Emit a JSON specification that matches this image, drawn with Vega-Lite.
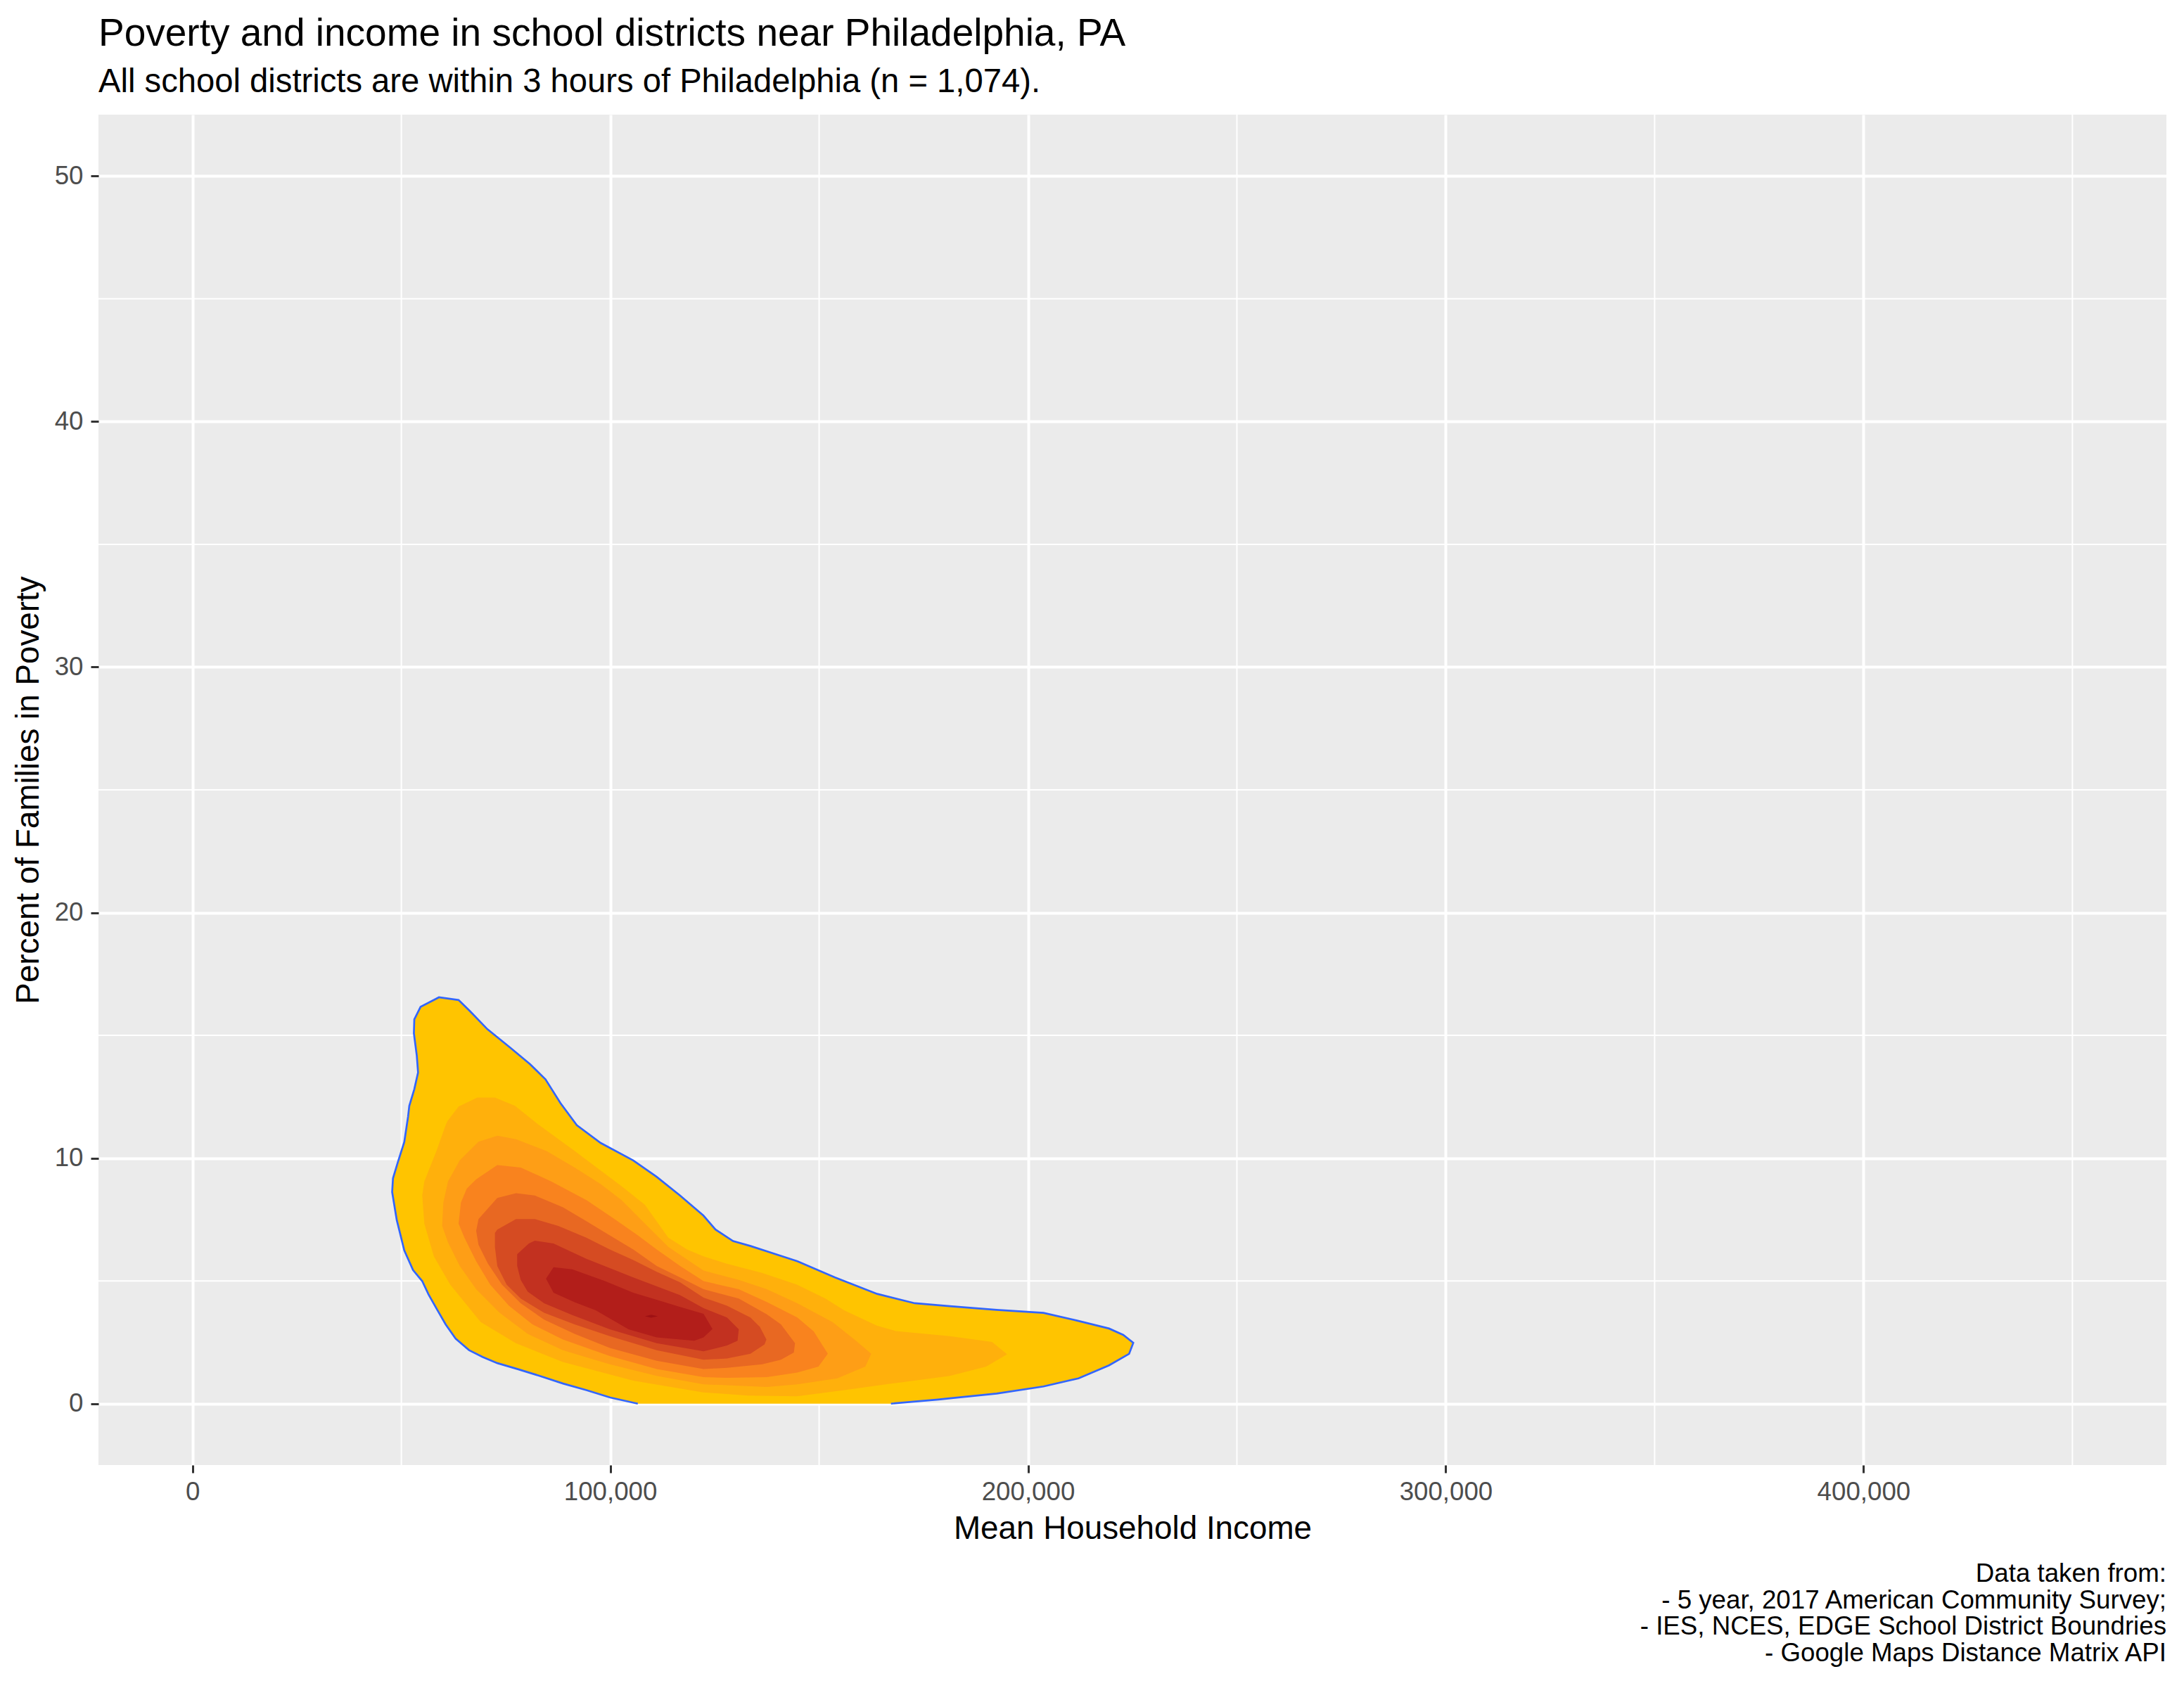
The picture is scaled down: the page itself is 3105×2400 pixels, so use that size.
{
  "$schema": "https://vega.github.io/schema/vega-lite/v6.json",
  "width": 2940,
  "height": 1920,
  "autosize": {"type": "none"},
  "padding": {"left": 140, "top": 163, "right": 25, "bottom": 317},
  "background": "#FFFFFF",
  "config": {
    "view": {"fill": "#EBEBEB", "stroke": null},
    "font": "Liberation Sans",
    "axis": {
      "domain": false, "grid": true, "gridColor": "#FFFFFF", "gridWidth": 4,
      "tickColor": "#333333", "tickWidth": 3, "tickSize": 11,
      "labelFont": "Liberation Sans", "labelFontSize": 36.7, "labelColor": "#4D4D4D",
      "labelFlush": false, "labelOverlap": false,
      "titleFont": "Liberation Sans", "titleFontSize": 45.8, "titleFontWeight": "normal", "titleColor": "#000000"
    },
    "axisX": {"labelPadding": 9, "titlePadding": 12},
    "axisY": {"labelPadding": 11, "titlePadding": 13}
  },
  "title": {
    "text": "Poverty and income in school districts near Philadelphia, PA",
    "subtitle": "All school districts are within 3 hours of Philadelphia (n = 1,074).",
    "anchor": "start",
    "frame": "group",
    "font": "Liberation Sans",
    "fontSize": 55,
    "fontWeight": "normal",
    "color": "#000000",
    "subtitleFont": "Liberation Sans",
    "subtitleFontSize": 47.2,
    "subtitleColor": "#000000",
    "offset": 21,
    "subtitlePadding": 17
  },
  "datasets": {
    "poly": [
      {"lv":1,"i":1,"x":106600,"y":0},{"lv":1,"i":2,"x":100000,"y":0.25},{"lv":1,"i":3,"x":94300,"y":0.55},{"lv":1,"i":4,"x":88700,"y":0.82},{"lv":1,"i":5,"x":83100,"y":1.13},{"lv":1,"i":6,"x":78000,"y":1.40},{"lv":1,"i":7,"x":73000,"y":1.65},{"lv":1,"i":8,"x":69500,"y":1.90},{"lv":1,"i":9,"x":66200,"y":2.18},{"lv":1,"i":10,"x":63000,"y":2.65},{"lv":1,"i":11,"x":60600,"y":3.23},{"lv":1,"i":12,"x":58500,"y":3.85},{"lv":1,"i":13,"x":56500,"y":4.45},{"lv":1,"i":14,"x":55000,"y":4.99},{"lv":1,"i":15,"x":52800,"y":5.44},{"lv":1,"i":16,"x":50700,"y":6.24},{"lv":1,"i":17,"x":48900,"y":7.48},{"lv":1,"i":18,"x":47800,"y":8.62},{"lv":1,"i":19,"x":48000,"y":9.18},{"lv":1,"i":20,"x":49200,"y":9.86},{"lv":1,"i":21,"x":50700,"y":10.66},{"lv":1,"i":22,"x":51600,"y":11.68},{"lv":1,"i":23,"x":51900,"y":12.13},{"lv":1,"i":24,"x":53100,"y":12.81},{"lv":1,"i":25,"x":54000,"y":13.49},{"lv":1,"i":26,"x":53700,"y":14.17},{"lv":1,"i":27,"x":53000,"y":15.08},{"lv":1,"i":28,"x":53100,"y":15.65},{"lv":1,"i":29,"x":54600,"y":16.16},{"lv":1,"i":30,"x":59000,"y":16.55},{"lv":1,"i":31,"x":63700,"y":16.44},{"lv":1,"i":32,"x":66400,"y":15.99},{"lv":1,"i":33,"x":70600,"y":15.25},{"lv":1,"i":34,"x":76000,"y":14.51},{"lv":1,"i":35,"x":80800,"y":13.83},{"lv":1,"i":36,"x":84500,"y":13.21},{"lv":1,"i":37,"x":88100,"y":12.24},{"lv":1,"i":38,"x":92000,"y":11.34},{"lv":1,"i":39,"x":97700,"y":10.62},{"lv":1,"i":40,"x":105500,"y":9.91},{"lv":1,"i":41,"x":111100,"y":9.24},{"lv":1,"i":42,"x":116700,"y":8.48},{"lv":1,"i":43,"x":122300,"y":7.66},{"lv":1,"i":44,"x":125200,"y":7.09},{"lv":1,"i":45,"x":129400,"y":6.62},{"lv":1,"i":46,"x":133600,"y":6.42},{"lv":1,"i":47,"x":144800,"y":5.80},{"lv":1,"i":48,"x":153800,"y":5.14},{"lv":1,"i":49,"x":163900,"y":4.47},{"lv":1,"i":50,"x":172900,"y":4.09},{"lv":1,"i":51,"x":181300,"y":3.97},{"lv":1,"i":52,"x":192500,"y":3.82},{"lv":1,"i":53,"x":203700,"y":3.70},{"lv":1,"i":54,"x":212100,"y":3.37},{"lv":1,"i":55,"x":219400,"y":3.06},{"lv":1,"i":56,"x":222800,"y":2.80},{"lv":1,"i":57,"x":225200,"y":2.48},{"lv":1,"i":58,"x":224200,"y":2.03},{"lv":1,"i":59,"x":219400,"y":1.56},{"lv":1,"i":60,"x":212100,"y":1.03},{"lv":1,"i":61,"x":203700,"y":0.70},{"lv":1,"i":62,"x":192500,"y":0.41},{"lv":1,"i":63,"x":181300,"y":0.22},{"lv":1,"i":64,"x":178500,"y":0.17},{"lv":1,"i":65,"x":167200,"y":0},

      {"lv":2,"i":1,"x":61000,"y":11.5},{"lv":2,"i":2,"x":63700,"y":12.1},{"lv":2,"i":3,"x":68200,"y":12.47},{"lv":2,"i":4,"x":72400,"y":12.47},{"lv":2,"i":5,"x":77200,"y":12.13},{"lv":2,"i":6,"x":83000,"y":11.34},{"lv":2,"i":7,"x":91500,"y":10.29},{"lv":2,"i":8,"x":102700,"y":8.86},{"lv":2,"i":9,"x":108300,"y":8.1},{"lv":2,"i":10,"x":113900,"y":6.76},{"lv":2,"i":11,"x":118400,"y":6.28},{"lv":2,"i":12,"x":122300,"y":6.0},{"lv":2,"i":13,"x":127900,"y":5.7},{"lv":2,"i":14,"x":136300,"y":5.33},{"lv":2,"i":15,"x":144700,"y":4.85},{"lv":2,"i":16,"x":151500,"y":4.28},{"lv":2,"i":17,"x":156000,"y":3.8},{"lv":2,"i":18,"x":163800,"y":3.18},{"lv":2,"i":19,"x":168300,"y":2.96},{"lv":2,"i":20,"x":181300,"y":2.75},{"lv":2,"i":21,"x":191400,"y":2.51},{"lv":2,"i":22,"x":195000,"y":2.01},{"lv":2,"i":23,"x":190000,"y":1.51},{"lv":2,"i":24,"x":181300,"y":1.13},{"lv":2,"i":25,"x":168300,"y":0.84},{"lv":2,"i":26,"x":156000,"y":0.55},{"lv":2,"i":27,"x":144700,"y":0.3},{"lv":2,"i":28,"x":133000,"y":0.33},{"lv":2,"i":29,"x":122300,"y":0.46},{"lv":2,"i":30,"x":105500,"y":0.94},{"lv":2,"i":31,"x":88650,"y":1.7},{"lv":2,"i":32,"x":77400,"y":2.46},{"lv":2,"i":33,"x":69000,"y":3.32},{"lv":2,"i":34,"x":61700,"y":4.85},{"lv":2,"i":35,"x":57800,"y":5.99},{"lv":2,"i":36,"x":55500,"y":7.33},{"lv":2,"i":37,"x":55000,"y":8.48},{"lv":2,"i":38,"x":55500,"y":9.05},{"lv":2,"i":39,"x":58400,"y":10.29},{"lv":2,"i":40,"x":60600,"y":11.34},

      {"lv":3,"i":1,"x":73000,"y":10.91},{"lv":3,"i":2,"x":77450,"y":10.77},{"lv":3,"i":3,"x":84740,"y":10.29},{"lv":3,"i":4,"x":91480,"y":9.62},{"lv":3,"i":5,"x":97650,"y":8.95},{"lv":3,"i":6,"x":102700,"y":8.29},{"lv":3,"i":7,"x":108310,"y":7.33},{"lv":3,"i":8,"x":113930,"y":6.38},{"lv":3,"i":9,"x":122340,"y":5.42},{"lv":3,"i":10,"x":130760,"y":5.04},{"lv":3,"i":11,"x":137490,"y":4.66},{"lv":3,"i":12,"x":144790,"y":4.09},{"lv":3,"i":13,"x":153210,"y":3.32},{"lv":3,"i":14,"x":158820,"y":2.56},{"lv":3,"i":15,"x":162470,"y":2.03},{"lv":3,"i":16,"x":161060,"y":1.51},{"lv":3,"i":17,"x":154330,"y":1.03},{"lv":3,"i":18,"x":144790,"y":0.79},{"lv":3,"i":19,"x":137490,"y":0.68},{"lv":3,"i":20,"x":122340,"y":0.79},{"lv":3,"i":21,"x":111120,"y":1.13},{"lv":3,"i":22,"x":99900,"y":1.60},{"lv":3,"i":23,"x":88670,"y":2.18},{"lv":3,"i":24,"x":80250,"y":2.84},{"lv":3,"i":25,"x":73520,"y":3.70},{"lv":3,"i":26,"x":67910,"y":4.66},{"lv":3,"i":27,"x":63980,"y":5.61},{"lv":3,"i":28,"x":61170,"y":6.57},{"lv":3,"i":29,"x":59770,"y":7.24},{"lv":3,"i":30,"x":60050,"y":8.19},{"lv":3,"i":31,"x":61170,"y":9.05},{"lv":3,"i":32,"x":63980,"y":9.91},{"lv":3,"i":33,"x":68470,"y":10.67},

      {"lv":4,"i":1,"x":65660,"y":8.76},{"lv":4,"i":2,"x":67910,"y":9.14},{"lv":4,"i":3,"x":72960,"y":9.72},{"lv":4,"i":4,"x":78570,"y":9.62},{"lv":4,"i":5,"x":85870,"y":9.05},{"lv":4,"i":6,"x":94280,"y":8.29},{"lv":4,"i":7,"x":101020,"y":7.52},{"lv":4,"i":8,"x":106630,"y":6.85},{"lv":4,"i":9,"x":111120,"y":6.28},{"lv":4,"i":10,"x":116730,"y":5.61},{"lv":4,"i":11,"x":122340,"y":4.99},{"lv":4,"i":12,"x":130760,"y":4.66},{"lv":4,"i":13,"x":137490,"y":4.14},{"lv":4,"i":14,"x":144790,"y":3.51},{"lv":4,"i":15,"x":148710,"y":2.94},{"lv":4,"i":16,"x":152080,"y":2.03},{"lv":4,"i":17,"x":149840,"y":1.51},{"lv":4,"i":18,"x":144790,"y":1.27},{"lv":4,"i":19,"x":137490,"y":1.08},{"lv":4,"i":20,"x":127950,"y":1.05},{"lv":4,"i":21,"x":122340,"y":1.08},{"lv":4,"i":22,"x":111120,"y":1.41},{"lv":4,"i":23,"x":99900,"y":1.94},{"lv":4,"i":24,"x":88670,"y":2.61},{"lv":4,"i":25,"x":81380,"y":3.23},{"lv":4,"i":26,"x":75760,"y":3.99},{"lv":4,"i":27,"x":71270,"y":4.85},{"lv":4,"i":28,"x":67910,"y":5.80},{"lv":4,"i":29,"x":65100,"y":6.76},{"lv":4,"i":30,"x":63700,"y":7.33},{"lv":4,"i":31,"x":64260,"y":8.19},

      {"lv":5,"i":1,"x":67910,"y":7.04},{"lv":5,"i":2,"x":68470,"y":7.52},{"lv":5,"i":3,"x":72960,"y":8.38},{"lv":5,"i":4,"x":77450,"y":8.57},{"lv":5,"i":5,"x":81940,"y":8.48},{"lv":5,"i":6,"x":88670,"y":8.00},{"lv":5,"i":7,"x":94280,"y":7.43},{"lv":5,"i":8,"x":99900,"y":6.85},{"lv":5,"i":9,"x":105510,"y":6.28},{"lv":5,"i":10,"x":111120,"y":5.61},{"lv":5,"i":11,"x":116730,"y":5.14},{"lv":5,"i":12,"x":122340,"y":4.66},{"lv":5,"i":13,"x":130760,"y":4.28},{"lv":5,"i":14,"x":137490,"y":3.64},{"lv":5,"i":15,"x":140860,"y":3.23},{"lv":5,"i":16,"x":144230,"y":2.46},{"lv":5,"i":17,"x":143950,"y":2.08},{"lv":5,"i":18,"x":140860,"y":1.79},{"lv":5,"i":19,"x":136370,"y":1.60},{"lv":5,"i":20,"x":127950,"y":1.46},{"lv":5,"i":21,"x":122340,"y":1.41},{"lv":5,"i":22,"x":111120,"y":1.75},{"lv":5,"i":23,"x":99900,"y":2.27},{"lv":5,"i":24,"x":91480,"y":2.84},{"lv":5,"i":25,"x":84180,"y":3.42},{"lv":5,"i":26,"x":78570,"y":4.09},{"lv":5,"i":27,"x":74080,"y":4.85},{"lv":5,"i":28,"x":70710,"y":5.71},{"lv":5,"i":29,"x":68470,"y":6.47},

      {"lv":6,"i":1,"x":72400,"y":6.95},{"lv":6,"i":2,"x":72960,"y":7.09},{"lv":6,"i":3,"x":77450,"y":7.52},{"lv":6,"i":4,"x":81940,"y":7.52},{"lv":6,"i":5,"x":87550,"y":7.24},{"lv":6,"i":6,"x":94280,"y":6.76},{"lv":6,"i":7,"x":99900,"y":6.28},{"lv":6,"i":8,"x":105510,"y":5.85},{"lv":6,"i":9,"x":111120,"y":5.37},{"lv":6,"i":10,"x":116730,"y":4.94},{"lv":6,"i":11,"x":122340,"y":4.32},{"lv":6,"i":12,"x":127950,"y":3.99},{"lv":6,"i":13,"x":133560,"y":3.51},{"lv":6,"i":14,"x":135810,"y":3.13},{"lv":6,"i":15,"x":137380,"y":2.61},{"lv":6,"i":16,"x":136930,"y":2.41},{"lv":6,"i":17,"x":133560,"y":2.03},{"lv":6,"i":18,"x":127950,"y":1.84},{"lv":6,"i":19,"x":122340,"y":1.79},{"lv":6,"i":20,"x":111120,"y":2.18},{"lv":6,"i":21,"x":99900,"y":2.75},{"lv":6,"i":22,"x":91480,"y":3.23},{"lv":6,"i":23,"x":84180,"y":3.70},{"lv":6,"i":24,"x":78570,"y":4.28},{"lv":6,"i":25,"x":75200,"y":4.85},{"lv":6,"i":26,"x":72960,"y":5.61},{"lv":6,"i":27,"x":72400,"y":6.38},

      {"lv":7,"i":1,"x":77730,"y":6.09},{"lv":7,"i":2,"x":80530,"y":6.52},{"lv":7,"i":3,"x":81940,"y":6.64},{"lv":7,"i":4,"x":86430,"y":6.52},{"lv":7,"i":5,"x":94280,"y":5.90},{"lv":7,"i":6,"x":105510,"y":5.14},{"lv":7,"i":7,"x":116730,"y":4.42},{"lv":7,"i":8,"x":122340,"y":3.89},{"lv":7,"i":9,"x":127950,"y":3.51},{"lv":7,"i":10,"x":130760,"y":3.03},{"lv":7,"i":11,"x":130480,"y":2.56},{"lv":7,"i":12,"x":127950,"y":2.37},{"lv":7,"i":13,"x":122340,"y":2.13},{"lv":7,"i":14,"x":111120,"y":2.46},{"lv":7,"i":15,"x":99900,"y":3.03},{"lv":7,"i":16,"x":90920,"y":3.61},{"lv":7,"i":17,"x":84180,"y":4.09},{"lv":7,"i":18,"x":80250,"y":4.56},{"lv":7,"i":19,"x":78570,"y":5.04},{"lv":7,"i":20,"x":77730,"y":5.61},

      {"lv":8,"i":1,"x":84630,"y":5.09},{"lv":8,"i":2,"x":86430,"y":5.56},{"lv":8,"i":3,"x":90920,"y":5.47},{"lv":8,"i":4,"x":98770,"y":4.99},{"lv":8,"i":5,"x":105510,"y":4.52},{"lv":8,"i":6,"x":111120,"y":4.23},{"lv":8,"i":7,"x":116730,"y":3.94},{"lv":8,"i":8,"x":122340,"y":3.66},{"lv":8,"i":9,"x":124470,"y":3.04},{"lv":8,"i":10,"x":122340,"y":2.70},{"lv":8,"i":11,"x":120100,"y":2.56},{"lv":8,"i":12,"x":111120,"y":2.70},{"lv":8,"i":13,"x":104380,"y":3.03},{"lv":8,"i":14,"x":96530,"y":3.80},{"lv":8,"i":15,"x":91480,"y":4.13},{"lv":8,"i":16,"x":86430,"y":4.52},

      {"lv":9,"i":1,"x":108300,"y":3.56},{"lv":9,"i":2,"x":109800,"y":3.62},{"lv":9,"i":3,"x":111400,"y":3.56},{"lv":9,"i":4,"x":109800,"y":3.50}
    ],
    "minorx": [{"v":50000},{"v":150000},{"v":250000},{"v":350000},{"v":450000}],
    "minory": [{"v":5},{"v":15},{"v":25},{"v":35},{"v":45}],
    "note": [{"kind":"caption"}]
  },
  "layer": [
    {
      "data": {"name": "minorx"},
      "mark": {"type": "rule", "color": "#FFFFFF", "strokeWidth": 2},
      "encoding": {
        "x": {"field": "v", "type": "quantitative", "title": "Mean Household Income",
              "scale": {"domain": [-22500, 472500], "nice": false, "zero": false},
              "axis": {"values": [0, 100000, 200000, 300000, 400000], "labelExpr": "format(datum.value, ',')"}}
      }
    },
    {
      "data": {"name": "minory"},
      "mark": {"type": "rule", "color": "#FFFFFF", "strokeWidth": 2},
      "encoding": {
        "y": {"field": "v", "type": "quantitative", "title": "Percent of Families in Poverty",
              "scale": {"domain": [-2.5, 52.5], "nice": false, "zero": false},
              "axis": {"values": [0, 10, 20, 30, 40, 50], "labelExpr": "format(datum.value, 'd')"}}
      }
    },
    {
      "data": {"name": "poly"},
      "mark": {"type": "line", "filled": true, "interpolate": "linear", "strokeWidth": 0},
      "encoding": {
        "x": {"field": "x", "type": "quantitative", "title": "Mean Household Income",
              "scale": {"domain": [-22500, 472500], "nice": false, "zero": false},
              "axis": {"values": [0, 100000, 200000, 300000, 400000], "labelExpr": "format(datum.value, ',')"}},
        "y": {"field": "y", "type": "quantitative", "title": "Percent of Families in Poverty",
              "scale": {"domain": [-2.5, 52.5], "nice": false, "zero": false},
              "axis": {"values": [0, 10, 20, 30, 40, 50], "labelExpr": "format(datum.value, 'd')"}},
        "detail": {"field": "lv", "type": "nominal"},
        "order": {"field": "i", "type": "quantitative"},
        "color": {
          "field": "lv", "type": "nominal",
          "scale": {"domain": [1, 2, 3, 4, 5, 6, 7, 8, 9], "range": ["#FFC400", "#FFB00C", "#FE9E16", "#F9831E", "#E86822", "#D54B22", "#C23120", "#B21E1A", "#9E1114"]},
          "legend": null
        }
      }
    },
    {
      "data": {"name": "poly"},
      "transform": [{"filter": "datum.lv == 1"}],
      "mark": {"type": "line", "color": "#3366FF", "strokeWidth": 2.7, "interpolate": "linear"},
      "encoding": {
        "x": {"field": "x", "type": "quantitative", "title": "Mean Household Income",
              "scale": {"domain": [-22500, 472500], "nice": false, "zero": false},
              "axis": {"values": [0, 100000, 200000, 300000, 400000], "labelExpr": "format(datum.value, ',')"}},
        "y": {"field": "y", "type": "quantitative", "title": "Percent of Families in Poverty",
              "scale": {"domain": [-2.5, 52.5], "nice": false, "zero": false},
              "axis": {"values": [0, 10, 20, 30, 40, 50], "labelExpr": "format(datum.value, 'd')"}},
        "order": {"field": "i", "type": "quantitative"}
      }
    },
    {
      "data": {"name": "note"},
      "mark": {
        "type": "text", "align": "right", "baseline": "alphabetic",
        "font": "Liberation Sans", "fontSize": 36.7, "color": "#000000", "lineHeight": 37.6,
        "text": ["Data taken from:", "- 5 year, 2017 American Community Survey;", "- IES, NCES, EDGE School District Boundries", "- Google Maps Distance Matrix API"]
      },
      "encoding": {
        "x": {"datum": 472500, "type": "quantitative", "title": "Mean Household Income",
              "scale": {"domain": [-22500, 472500], "nice": false, "zero": false},
              "axis": {"values": [0, 100000, 200000, 300000, 400000], "labelExpr": "format(datum.value, ',')"}},
        "y": {"datum": -7.26, "type": "quantitative", "title": "Percent of Families in Poverty",
              "scale": {"domain": [-2.5, 52.5], "nice": false, "zero": false},
              "axis": {"values": [0, 10, 20, 30, 40, 50], "labelExpr": "format(datum.value, 'd')"}}
      }
    }
  ]
}
